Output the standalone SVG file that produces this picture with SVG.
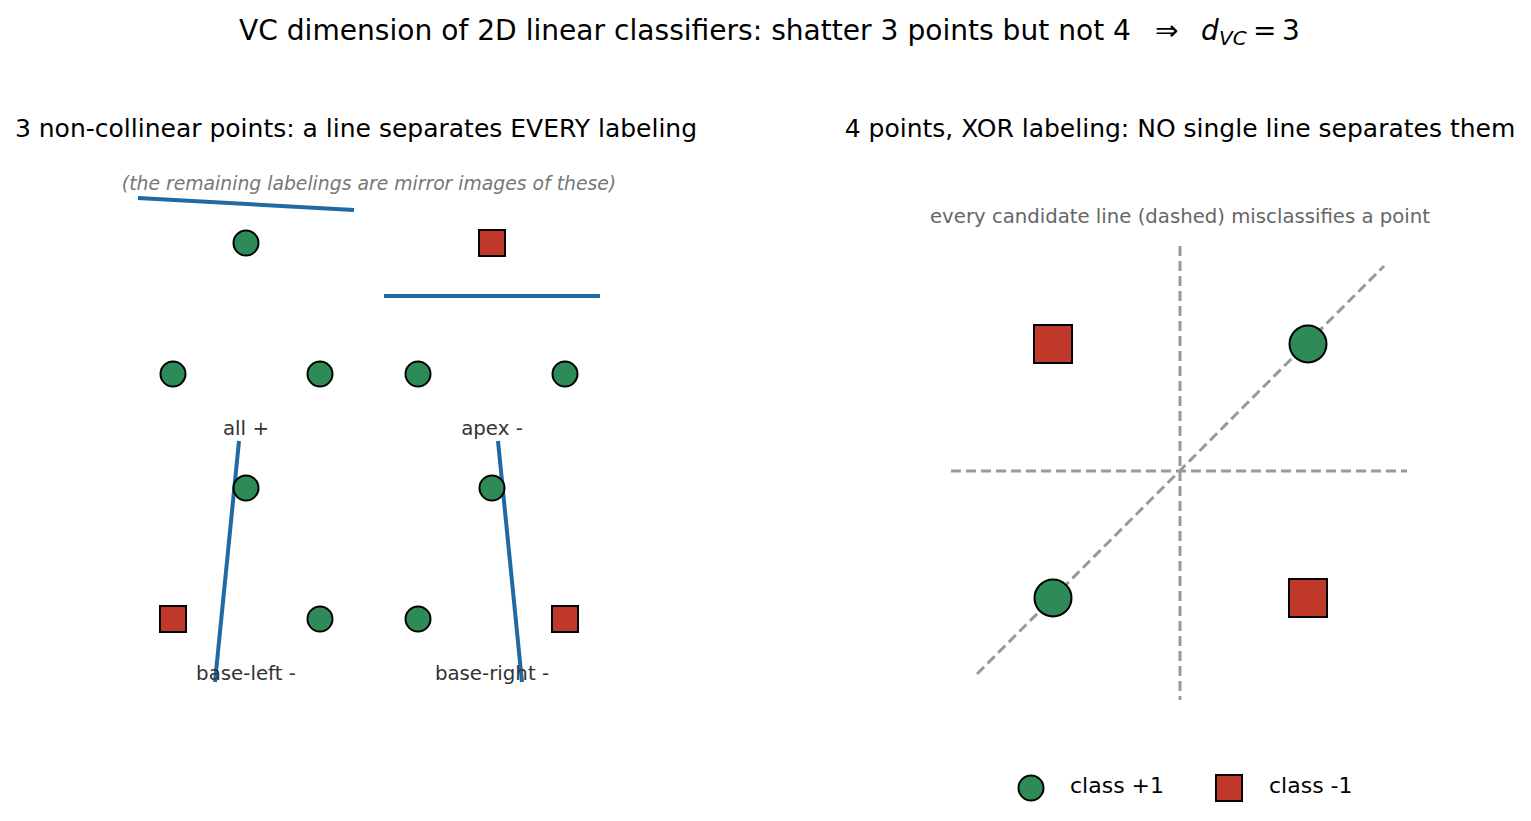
<svg xmlns="http://www.w3.org/2000/svg" width="1531" height="821" viewBox="0 0 1531 821">
<style>
text{font-family:"DejaVu Sans",sans-serif}
.pos{fill:#2e8b57;stroke:#000;stroke-width:2}
.neg{fill:#c0392b;stroke:#000;stroke-width:2}
.sep{stroke:#1f6aa5;stroke-width:4;fill:none}
.cand{stroke:#999;stroke-width:3;stroke-dasharray:10,5;fill:none}
.lab{font-size:19.8px;fill:#333;text-anchor:middle}
.sub{font-size:25px;fill:#000;text-anchor:middle}
.tt{font-size:28px;fill:#000}
</style>
<rect width="1531" height="821" fill="#fff"/>
<g id="title">
<text class="tt" x="239" y="40" textLength="892" lengthAdjust="spacingAndGlyphs">VC dimension of 2D linear classifiers: shatter 3 points but not 4</text>
<text class="tt" x="1155" y="40">⇒</text>
<text class="tt" x="1201" y="40" font-style="italic">d</text>
<text x="1219" y="45" font-size="20" font-style="italic">VC</text>
<text class="tt" x="1253" y="40">=</text>
<text class="tt" x="1282" y="40">3</text>
</g>
<g id="left-title"><text class="sub" x="356" y="137">3 non-collinear points: a line separates EVERY labeling</text></g>
<g id="right-title"><text class="sub" x="1180" y="137">4 points, XOR labeling: NO single line separates them</text></g>
<g id="note"><text x="369" y="190" font-size="18.8" font-style="italic" fill="#777" text-anchor="middle">(the remaining labelings are mirror images of these)</text></g>
<g id="note2"><text x="1180" y="223" font-size="19.7" fill="#666" text-anchor="middle">every candidate line (dashed) misclassifies a point</text></g>
<g id="connectors">
<line class="sep" x1="138" y1="198" x2="354" y2="210"/>
<line class="sep" x1="384" y1="296" x2="600" y2="296"/>
<line class="sep" x1="239" y1="441" x2="215" y2="682"/>
<line class="sep" x1="498" y1="441" x2="522" y2="682"/>
<line class="cand" x1="1180" y1="246" x2="1180" y2="700"/>
<line class="cand" x1="951" y1="471" x2="1407" y2="471"/>
<line class="cand" x1="977" y1="674" x2="1384" y2="266"/>
</g>
<g id="all-plus">
<circle class="pos" cx="246" cy="243" r="12.5"/>
<circle class="pos" cx="173" cy="374" r="12.5"/>
<circle class="pos" cx="320" cy="374" r="12.5"/>
<text class="lab" x="246" y="435">all +</text>
</g>
<g id="apex-minus">
<rect class="neg" x="479" y="230" width="26" height="26"/>
<circle class="pos" cx="418" cy="374" r="12.5"/>
<circle class="pos" cx="565" cy="374" r="12.5"/>
<text class="lab" x="492" y="435">apex -</text>
</g>
<g id="base-left-minus">
<circle class="pos" cx="246" cy="488" r="12.5"/>
<rect class="neg" x="160" y="606" width="26" height="26"/>
<circle class="pos" cx="320" cy="619" r="12.5"/>
<text class="lab" x="246" y="680">base-left -</text>
</g>
<g id="base-right-minus">
<circle class="pos" cx="492" cy="488" r="12.5"/>
<circle class="pos" cx="418" cy="619" r="12.5"/>
<rect class="neg" x="552" y="606" width="26" height="26"/>
<text class="lab" x="492" y="680">base-right -</text>
</g>
<g id="xor">
<rect class="neg" x="1034" y="325" width="38" height="38"/>
<circle class="pos" cx="1308" cy="344" r="18.5"/>
<circle class="pos" cx="1053" cy="598" r="18.5"/>
<rect class="neg" x="1289" y="579" width="38" height="38"/>
</g>
<g id="legend">
<circle class="pos" cx="1031" cy="788" r="12.5"/>
<text x="1070" y="793" font-size="22">class +1</text>
<rect class="neg" x="1216" y="775" width="26" height="26"/>
<text x="1269" y="793" font-size="22">class -1</text>
</g>
</svg>
